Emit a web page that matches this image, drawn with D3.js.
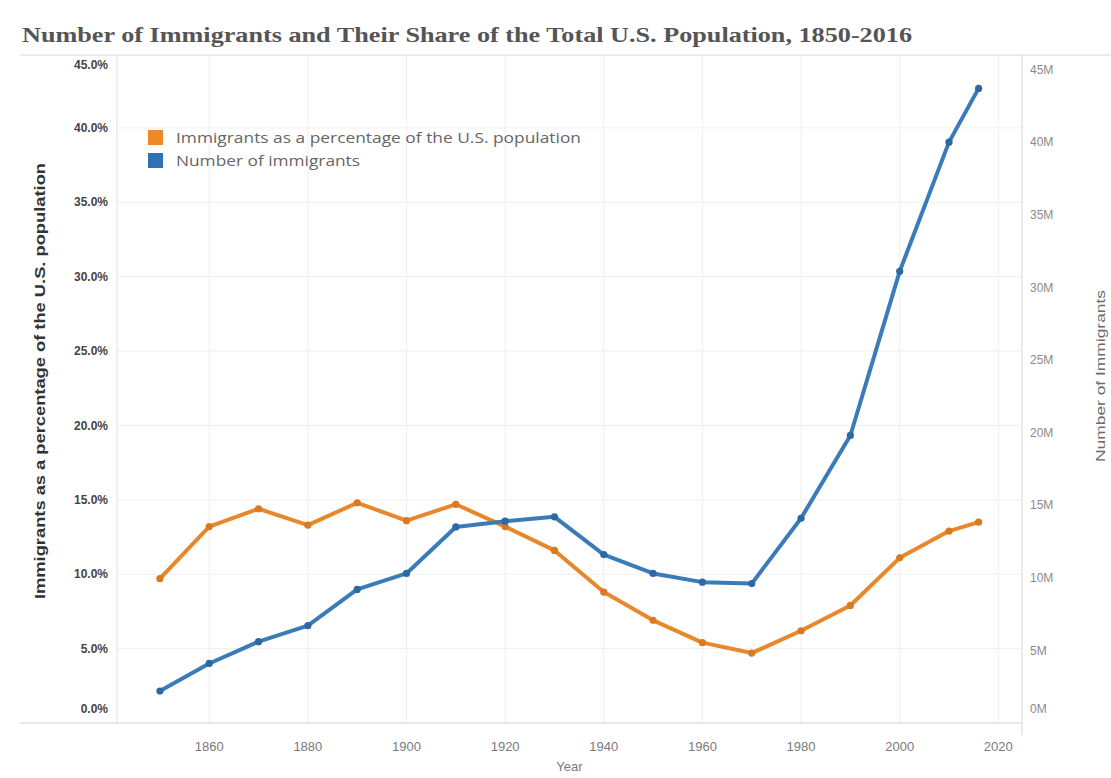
<!DOCTYPE html>
<html>
<head>
<meta charset="utf-8">
<script src="https://cdn.jsdelivr.net/npm/d3@7"></script>
<style>
  html, body { margin: 0; padding: 0; background: #fff; }
  svg { display: block; }
</style>
</head>
<body>
<svg id="chart" width="1111" height="778"></svg>
<script>
// ---- data ----
const years = [1850, 1860, 1870, 1880, 1890, 1900, 1910, 1920, 1930, 1940, 1950, 1960, 1970, 1980, 1990, 2000, 2010, 2016];
const sharePct = [9.7, 13.2, 14.4, 13.3, 14.8, 13.6, 14.7, 13.2, 11.6, 8.8, 6.9, 5.4, 4.7, 6.2, 7.9, 11.1, 12.9, 13.5];
const immigrantsM = [2.2, 4.1, 5.6, 6.7, 9.2, 10.3, 13.5, 13.9, 14.2, 11.6, 10.3, 9.7, 9.6, 14.1, 19.8, 31.1, 40.0, 43.7];
const xTicks = [1860, 1880, 1900, 1920, 1940, 1960, 1980, 2000, 2020];
const leftTicks = [0, 5, 10, 15, 20, 25, 30, 35, 40, 45];
const rightTicks = [0, 5, 10, 15, 20, 25, 30, 35, 40, 45];
const seriesNames = ["Immigrants as a percentage of the U.S. population", "Number of immigrants"];
const titleText = "Number of Immigrants and Their Share of the Total U.S. Population, 1850-2016";

// ---- layout ----
const W = 1111, H = 778;
const plot = { left: 117, right: 1022, top: 55, bottom: 723 };
const colors = { orange: "#e8872c", orangeDot: "#d97a22", blue: "#3a7bb8", blueDot: "#2c68a3",
                 legendOrange: "#ee8a26", legendBlue: "#2f72b3" };

const svg = d3.select("#chart");

const x = d3.scaleLinear().domain([1841.3, 2024.8]).range([plot.left, plot.right]);
const yL = d3.scaleLinear().domain([0, 44.9]).range([plot.bottom, plot.top]);
const yR = d3.scaleLinear().domain([0, 46.0]).range([plot.bottom, plot.top]);

// title
svg.append("text")
  .attr("x", 22).attr("y", 42)
  .attr("font-family", "'Liberation Serif', 'DejaVu Serif', serif")
  .attr("font-weight", "bold").attr("font-size", 21)
  .attr("fill", "#555")
  .attr("textLength", 890).attr("lengthAdjust", "spacingAndGlyphs")
  .text(titleText);

// title underline
svg.append("line").attr("x1", 20).attr("x2", W).attr("y1", plot.top).attr("y2", plot.top)
  .attr("stroke", "#d8d8d8").attr("stroke-width", 1);

// gridlines
const grid = svg.append("g");
grid.selectAll("line.h").data(leftTicks.filter(d => d > 0 && yL(d) > plot.top + 2)).enter()
  .append("line").attr("class", "h")
  .attr("x1", plot.left).attr("x2", plot.right)
  .attr("y1", d => yL(d)).attr("y2", d => yL(d))
  .attr("stroke", "#efefef").attr("stroke-width", 1);
grid.selectAll("line.v").data(xTicks).enter()
  .append("line").attr("class", "v")
  .attr("x1", d => x(d)).attr("x2", d => x(d))
  .attr("y1", plot.top).attr("y2", plot.bottom)
  .attr("stroke", "#efefef").attr("stroke-width", 1);

// axis lines
svg.append("line").attr("x1", plot.left).attr("x2", plot.left).attr("y1", plot.top).attr("y2", plot.bottom)
  .attr("stroke", "#e0e0e0");
svg.append("line").attr("x1", plot.right).attr("x2", plot.right).attr("y1", plot.top).attr("y2", plot.bottom + 12)
  .attr("stroke", "#d6d6d6");
svg.append("line").attr("x1", 20).attr("x2", plot.right).attr("y1", plot.bottom).attr("y2", plot.bottom)
  .attr("stroke", "#d0d0d0");

// left tick labels (clamped inside pane like Tableau)
const clampY = y => Math.max(65, Math.min(709, y));
svg.append("g").selectAll("text").data(leftTicks).enter().append("text")
  .attr("x", 108).attr("y", d => clampY(yL(d)))
  .attr("dy", "0.35em").attr("text-anchor", "end")
  .attr("font-family", "'Liberation Sans', Arial, sans-serif")
  .attr("font-weight", "bold").attr("font-size", 12).attr("fill", "#444")
  .text(d => d3.format(".1f")(d) + "%");

// right tick labels
svg.append("g").selectAll("text").data(rightTicks).enter().append("text")
  .attr("x", 1030).attr("y", d => clampY(yR(d)))
  .attr("dy", "0.35em").attr("text-anchor", "start")
  .attr("font-family", "'Liberation Sans', Arial, sans-serif")
  .attr("font-size", 12).attr("fill", "#8a8a8a")
  .text(d => d + "M");

// x tick labels
svg.append("g").selectAll("text").data(xTicks).enter().append("text")
  .attr("x", d => x(d)).attr("y", 746)
  .attr("dy", "0.35em").attr("text-anchor", "middle")
  .attr("font-family", "'Liberation Sans', Arial, sans-serif")
  .attr("font-size", 13).attr("fill", "#7a7a7a")
  .text(d => d);

// axis titles
svg.append("text")
  .attr("x", (plot.left + plot.right) / 2 + 0).attr("y", 766)
  .attr("dy", "0.35em").attr("text-anchor", "middle")
  .attr("font-family", "'Liberation Sans', Arial, sans-serif")
  .attr("font-size", 13).attr("fill", "#7a7a7a")
  .text("Year");

svg.append("text")
  .attr("transform", "translate(40,381) rotate(-90)")
  .attr("dy", "0.35em").attr("text-anchor", "middle")
  .attr("font-family", "'Liberation Sans', Arial, sans-serif")
  .attr("font-weight", "bold").attr("font-size", 14).attr("fill", "#333")
  .attr("textLength", 436).attr("lengthAdjust", "spacingAndGlyphs")
  .text("Immigrants as a percentage of the U.S. population");

svg.append("text")
  .attr("transform", "translate(1100,376) rotate(-90)")
  .attr("dy", "0.35em").attr("text-anchor", "middle")
  .attr("font-family", "'Liberation Sans', Arial, sans-serif")
  .attr("font-size", 13).attr("fill", "#6a6a6a")
  .attr("textLength", 172).attr("lengthAdjust", "spacingAndGlyphs")
  .text("Number of Immigrants");

// lines
const orangeData = years.map((yr, i) => [yr, sharePct[i]]);
const blueData = years.map((yr, i) => [yr, immigrantsM[i]]);

const lineL = d3.line().x(d => x(d[0])).y(d => yL(d[1]));
const lineR = d3.line().x(d => x(d[0])).y(d => yR(d[1]));

svg.append("path").datum(orangeData).attr("d", lineL)
  .attr("fill", "none").attr("stroke", colors.orange).attr("stroke-width", 4)
  .attr("stroke-linejoin", "round").attr("stroke-linecap", "round");
svg.append("g").selectAll("circle").data(orangeData).enter().append("circle")
  .attr("cx", d => x(d[0])).attr("cy", d => yL(d[1])).attr("r", 3.6)
  .attr("fill", colors.orangeDot);

svg.append("path").datum(blueData).attr("d", lineR)
  .attr("fill", "none").attr("stroke", colors.blue).attr("stroke-width", 4)
  .attr("stroke-linejoin", "round").attr("stroke-linecap", "round");
svg.append("g").selectAll("circle").data(blueData).enter().append("circle")
  .attr("cx", d => x(d[0])).attr("cy", d => yR(d[1])).attr("r", 3.6)
  .attr("fill", colors.blueDot);

// legend
const legend = svg.append("g");
const legendColors = [colors.legendOrange, colors.legendBlue];
const legendLens = [405, 184];
seriesNames.forEach((name, i) => {
  const yy = 130 + i * 23;
  legend.append("rect").attr("x", 148).attr("y", yy).attr("width", 15).attr("height", 15)
    .attr("fill", legendColors[i]);
  legend.append("text").attr("x", 176).attr("y", yy + 8).attr("dy", "0.35em")
    .attr("font-family", "'Open Sans', 'Noto Sans', sans-serif")
    .attr("font-size", 14).attr("fill", "#666")
    .attr("textLength", legendLens[i]).attr("lengthAdjust", "spacingAndGlyphs")
    .text(name);
});
</script>
</body>
</html>
